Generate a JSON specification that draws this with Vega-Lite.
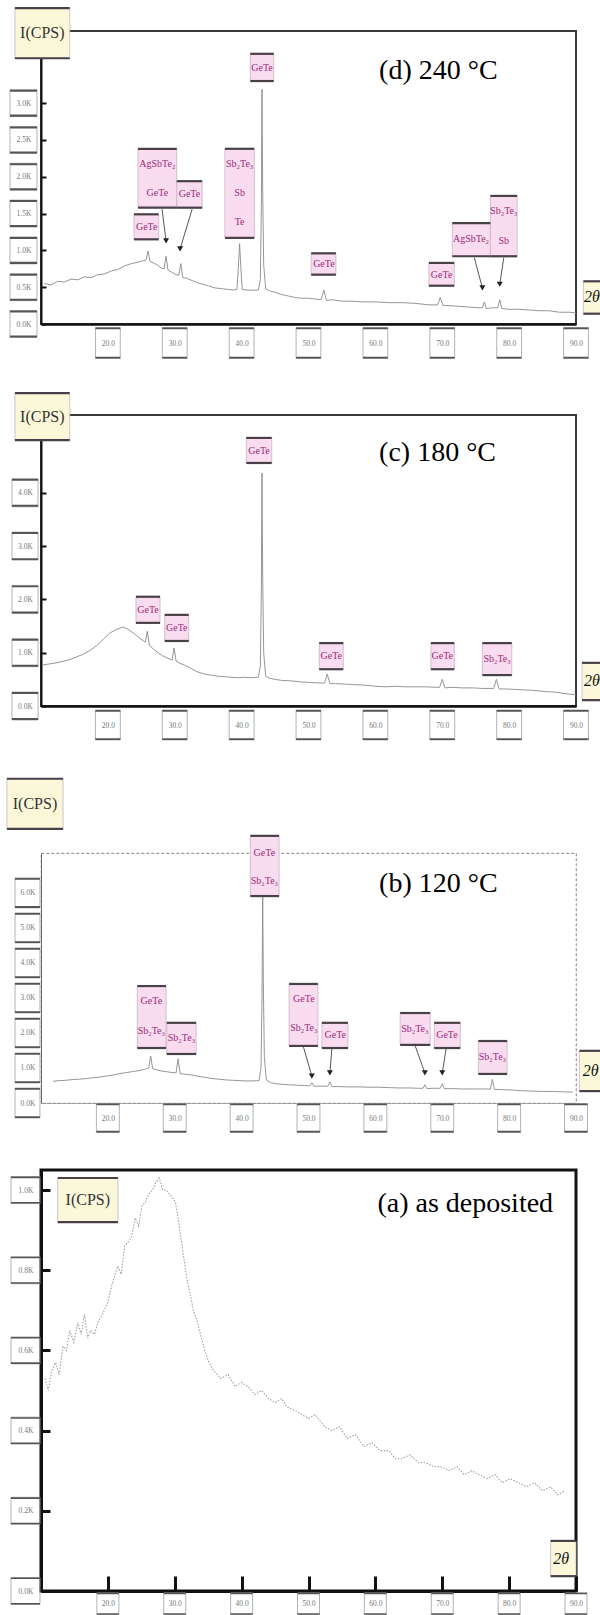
{
  "$schema": "https://vega.github.io/schema/vega-lite/v6.json",
  "background": "#ffffff",
  "padding": {"left": 5, "top": 6, "right": 0, "bottom": 0},
  "spacing": 0,
  "bounds": "flush",
  "config": {
    "view": {"stroke": null},
    "axis": {"grid": false, "labelFont": "Liberation Serif", "labelFontSize": 7.5, "labelColor": "#777", "labelFlush": false, "labelOverlap": false}
  },
  "datasets": {
    "xrd": [
      {"p":"d","t":10.5,"k":0.55},{"p":"d","t":11.5,"k":0.53},{"p":"d","t":12.5,"k":0.58},{"p":"d","t":13.5,"k":0.57},{"p":"d","t":14.5,"k":0.61},{"p":"d","t":15.5,"k":0.60},{"p":"d","t":16.5,"k":0.64},{"p":"d","t":17.5,"k":0.63},{"p":"d","t":18.5,"k":0.67},{"p":"d","t":19.5,"k":0.68},{"p":"d","t":20.5,"k":0.72},{"p":"d","t":21.5,"k":0.74},{"p":"d","t":22.5,"k":0.79},{"p":"d","t":23.5,"k":0.82},{"p":"d","t":24.5,"k":0.84},{"p":"d","t":25.3,"k":0.86},{"p":"d","t":25.7,"k":0.87},{"p":"d","t":26.0,"k":0.99},{"p":"d","t":26.3,"k":0.85},{"p":"d","t":26.8,"k":0.83},{"p":"d","t":27.4,"k":0.80},{"p":"d","t":28.0,"k":0.76},{"p":"d","t":28.4,"k":0.75},{"p":"d","t":28.7,"k":0.92},{"p":"d","t":29.0,"k":0.73},{"p":"d","t":29.6,"k":0.70},{"p":"d","t":30.2,"k":0.67},{"p":"d","t":30.6,"k":0.66},{"p":"d","t":30.9,"k":0.82},{"p":"d","t":31.2,"k":0.63},{"p":"d","t":31.8,"k":0.62},{"p":"d","t":32.6,"k":0.59},{"p":"d","t":33.4,"k":0.56},{"p":"d","t":34.2,"k":0.54},{"p":"d","t":35.0,"k":0.52},{"p":"d","t":36.0,"k":0.49},{"p":"d","t":37.0,"k":0.48},{"p":"d","t":38.0,"k":0.47},{"p":"d","t":38.8,"k":0.46},{"p":"d","t":39.3,"k":0.47},{"p":"d","t":39.5,"k":0.75},{"p":"d","t":39.7,"k":1.09},{"p":"d","t":39.9,"k":0.74},{"p":"d","t":40.1,"k":0.47},{"p":"d","t":40.8,"k":0.46},{"p":"d","t":41.6,"k":0.46},{"p":"d","t":42.5,"k":0.46},{"p":"d","t":42.8,"k":0.6},{"p":"d","t":42.95,"k":1.6},{"p":"d","t":43.05,"k":3.19},{"p":"d","t":43.15,"k":1.8},{"p":"d","t":43.3,"k":0.8},{"p":"d","t":43.6,"k":0.48},{"p":"d","t":44.2,"k":0.45},{"p":"d","t":45.0,"k":0.43},{"p":"d","t":46.0,"k":0.40},{"p":"d","t":47.0,"k":0.38},{"p":"d","t":48.0,"k":0.36},{"p":"d","t":49.0,"k":0.35},{"p":"d","t":50.0,"k":0.35},{"p":"d","t":51.0,"k":0.34},{"p":"d","t":51.9,"k":0.33},{"p":"d","t":52.3,"k":0.46},{"p":"d","t":52.7,"k":0.32},{"p":"d","t":53.5,"k":0.33},{"p":"d","t":55.0,"k":0.31},{"p":"d","t":56.5,"k":0.31},{"p":"d","t":58.0,"k":0.30},{"p":"d","t":60.0,"k":0.30},{"p":"d","t":62.0,"k":0.29},{"p":"d","t":64.0,"k":0.29},{"p":"d","t":66.0,"k":0.28},{"p":"d","t":68.0,"k":0.26},{"p":"d","t":69.3,"k":0.26},{"p":"d","t":69.7,"k":0.36},{"p":"d","t":70.1,"k":0.25},{"p":"d","t":71.0,"k":0.25},{"p":"d","t":72.5,"k":0.24},{"p":"d","t":74.0,"k":0.23},{"p":"d","t":75.5,"k":0.22},{"p":"d","t":76.0,"k":0.22},{"p":"d","t":76.3,"k":0.30},{"p":"d","t":76.6,"k":0.21},{"p":"d","t":77.5,"k":0.22},{"p":"d","t":78.3,"k":0.22},{"p":"d","t":78.6,"k":0.33},{"p":"d","t":78.9,"k":0.21},{"p":"d","t":80.0,"k":0.20},{"p":"d","t":81.5,"k":0.20},{"p":"d","t":83.0,"k":0.19},{"p":"d","t":84.5,"k":0.18},{"p":"d","t":86.0,"k":0.18},{"p":"d","t":87.5,"k":0.16},{"p":"d","t":89.0,"k":0.16},{"p":"d","t":90.0,"k":0.15},

      {"p":"c","t":10.3,"k":0.77},{"p":"c","t":11.3,"k":0.79},{"p":"c","t":12.3,"k":0.81},{"p":"c","t":13.3,"k":0.84},{"p":"c","t":14.3,"k":0.87},{"p":"c","t":15.3,"k":0.92},{"p":"c","t":16.3,"k":0.97},{"p":"c","t":17.3,"k":1.04},{"p":"c","t":18.3,"k":1.13},{"p":"c","t":19.3,"k":1.25},{"p":"c","t":20.3,"k":1.37},{"p":"c","t":21.3,"k":1.44},{"p":"c","t":22.3,"k":1.48},{"p":"c","t":23.0,"k":1.44},{"p":"c","t":23.8,"k":1.37},{"p":"c","t":24.6,"k":1.29},{"p":"c","t":25.3,"k":1.22},{"p":"c","t":25.6,"k":1.20},{"p":"c","t":25.9,"k":1.40},{"p":"c","t":26.2,"k":1.14},{"p":"c","t":26.8,"k":1.07},{"p":"c","t":27.5,"k":1.00},{"p":"c","t":28.2,"k":0.94},{"p":"c","t":28.9,"k":0.90},{"p":"c","t":29.6,"k":0.86},{"p":"c","t":29.9,"k":1.09},{"p":"c","t":30.2,"k":0.84},{"p":"c","t":30.8,"k":0.80},{"p":"c","t":31.6,"k":0.76},{"p":"c","t":32.5,"k":0.70},{"p":"c","t":33.4,"k":0.64},{"p":"c","t":34.4,"k":0.60},{"p":"c","t":35.4,"k":0.58},{"p":"c","t":36.4,"k":0.56},{"p":"c","t":37.4,"k":0.55},{"p":"c","t":38.4,"k":0.54},{"p":"c","t":39.4,"k":0.53},{"p":"c","t":40.4,"k":0.54},{"p":"c","t":41.4,"k":0.53},{"p":"c","t":42.5,"k":0.54},{"p":"c","t":42.8,"k":0.75},{"p":"c","t":42.95,"k":2.2},{"p":"c","t":43.05,"k":4.37},{"p":"c","t":43.15,"k":2.4},{"p":"c","t":43.3,"k":1.0},{"p":"c","t":43.6,"k":0.56},{"p":"c","t":44.2,"k":0.52},{"p":"c","t":45.0,"k":0.50},{"p":"c","t":46.0,"k":0.48},{"p":"c","t":47.5,"k":0.47},{"p":"c","t":49.0,"k":0.45},{"p":"c","t":50.5,"k":0.44},{"p":"c","t":52.0,"k":0.43},{"p":"c","t":52.4,"k":0.43},{"p":"c","t":52.8,"k":0.60},{"p":"c","t":53.2,"k":0.42},{"p":"c","t":54.0,"k":0.42},{"p":"c","t":55.5,"k":0.41},{"p":"c","t":57.0,"k":0.40},{"p":"c","t":58.5,"k":0.39},{"p":"c","t":60.0,"k":0.37},{"p":"c","t":61.5,"k":0.36},{"p":"c","t":63.0,"k":0.37},{"p":"c","t":64.5,"k":0.36},{"p":"c","t":66.0,"k":0.36},{"p":"c","t":67.5,"k":0.36},{"p":"c","t":69.0,"k":0.35},{"p":"c","t":69.6,"k":0.35},{"p":"c","t":70.0,"k":0.50},{"p":"c","t":70.4,"k":0.34},{"p":"c","t":71.5,"k":0.35},{"p":"c","t":73.0,"k":0.34},{"p":"c","t":74.5,"k":0.34},{"p":"c","t":76.0,"k":0.33},{"p":"c","t":77.7,"k":0.33},{"p":"c","t":78.1,"k":0.50},{"p":"c","t":78.5,"k":0.32},{"p":"c","t":79.5,"k":0.32},{"p":"c","t":81.0,"k":0.31},{"p":"c","t":82.5,"k":0.30},{"p":"c","t":84.0,"k":0.29},{"p":"c","t":85.5,"k":0.27},{"p":"c","t":87.0,"k":0.26},{"p":"c","t":88.5,"k":0.23},{"p":"c","t":90.0,"k":0.21},

      {"p":"b","t":11.8,"k":0.62},{"p":"b","t":12.8,"k":0.64},{"p":"b","t":13.8,"k":0.65},{"p":"b","t":14.8,"k":0.67},{"p":"b","t":15.8,"k":0.68},{"p":"b","t":16.8,"k":0.70},{"p":"b","t":17.8,"k":0.72},{"p":"b","t":18.8,"k":0.74},{"p":"b","t":19.8,"k":0.77},{"p":"b","t":20.8,"k":0.80},{"p":"b","t":21.8,"k":0.84},{"p":"b","t":22.8,"k":0.87},{"p":"b","t":23.8,"k":0.90},{"p":"b","t":24.8,"k":0.93},{"p":"b","t":25.5,"k":0.96},{"p":"b","t":26.1,"k":1.00},{"p":"b","t":26.4,"k":1.34},{"p":"b","t":26.7,"k":0.98},{"p":"b","t":27.3,"k":0.95},{"p":"b","t":28.1,"k":0.91},{"p":"b","t":28.9,"k":0.89},{"p":"b","t":29.6,"k":0.87},{"p":"b","t":30.2,"k":0.86},{"p":"b","t":30.5,"k":1.26},{"p":"b","t":30.8,"k":0.84},{"p":"b","t":31.6,"k":0.82},{"p":"b","t":32.6,"k":0.80},{"p":"b","t":33.6,"k":0.76},{"p":"b","t":34.6,"k":0.73},{"p":"b","t":35.6,"k":0.70},{"p":"b","t":36.6,"k":0.68},{"p":"b","t":37.6,"k":0.66},{"p":"b","t":38.6,"k":0.65},{"p":"b","t":39.6,"k":0.64},{"p":"b","t":40.6,"k":0.63},{"p":"b","t":41.6,"k":0.63},{"p":"b","t":42.6,"k":0.64},{"p":"b","t":42.9,"k":1.0},{"p":"b","t":43.05,"k":3.0},{"p":"b","t":43.15,"k":5.9},{"p":"b","t":43.25,"k":3.4},{"p":"b","t":43.4,"k":1.3},{"p":"b","t":43.7,"k":0.66},{"p":"b","t":44.3,"k":0.58},{"p":"b","t":45.2,"k":0.55},{"p":"b","t":46.2,"k":0.53},{"p":"b","t":47.2,"k":0.52},{"p":"b","t":48.2,"k":0.51},{"p":"b","t":49.2,"k":0.50},{"p":"b","t":50.2,"k":0.49},{"p":"b","t":50.5,"k":0.58},{"p":"b","t":50.8,"k":0.48},{"p":"b","t":51.8,"k":0.48},{"p":"b","t":52.9,"k":0.48},{"p":"b","t":53.2,"k":0.60},{"p":"b","t":53.5,"k":0.47},{"p":"b","t":54.5,"k":0.47},{"p":"b","t":56.0,"k":0.46},{"p":"b","t":57.5,"k":0.46},{"p":"b","t":59.0,"k":0.45},{"p":"b","t":60.5,"k":0.45},{"p":"b","t":62.0,"k":0.44},{"p":"b","t":63.5,"k":0.43},{"p":"b","t":65.0,"k":0.43},{"p":"b","t":66.5,"k":0.42},{"p":"b","t":67.1,"k":0.42},{"p":"b","t":67.4,"k":0.52},{"p":"b","t":67.7,"k":0.41},{"p":"b","t":68.5,"k":0.42},{"p":"b","t":69.7,"k":0.42},{"p":"b","t":70.0,"k":0.55},{"p":"b","t":70.3,"k":0.41},{"p":"b","t":71.5,"k":0.41},{"p":"b","t":73.0,"k":0.40},{"p":"b","t":74.5,"k":0.40},{"p":"b","t":76.0,"k":0.40},{"p":"b","t":77.2,"k":0.40},{"p":"b","t":77.5,"k":0.68},{"p":"b","t":77.8,"k":0.39},{"p":"b","t":79.0,"k":0.38},{"p":"b","t":80.5,"k":0.37},{"p":"b","t":82.0,"k":0.35},{"p":"b","t":83.5,"k":0.34},{"p":"b","t":85.0,"k":0.33},{"p":"b","t":86.5,"k":0.33},{"p":"b","t":88.0,"k":0.32},{"p":"b","t":89.5,"k":0.31},

      {"p":"a","t":10.6,"k":0.53},{"p":"a","t":11.1,"k":0.50},{"p":"a","t":11.6,"k":0.55},{"p":"a","t":12.2,"k":0.57},{"p":"a","t":12.7,"k":0.54},{"p":"a","t":13.3,"k":0.61},{"p":"a","t":13.8,"k":0.60},{"p":"a","t":14.3,"k":0.65},{"p":"a","t":14.9,"k":0.62},{"p":"a","t":15.5,"k":0.67},{"p":"a","t":16.0,"k":0.64},{"p":"a","t":16.5,"k":0.69},{"p":"a","t":17.0,"k":0.63},{"p":"a","t":17.4,"k":0.65},{"p":"a","t":18.0,"k":0.64},{"p":"a","t":18.5,"k":0.67},{"p":"a","t":19.2,"k":0.69},{"p":"a","t":20.0,"k":0.72},{"p":"a","t":20.7,"k":0.77},{"p":"a","t":21.5,"k":0.81},{"p":"a","t":22.0,"k":0.79},{"p":"a","t":22.5,"k":0.86},{"p":"a","t":23.0,"k":0.87},{"p":"a","t":23.5,"k":0.88},{"p":"a","t":24.1,"k":0.93},{"p":"a","t":24.6,"k":0.91},{"p":"a","t":25.1,"k":0.96},{"p":"a","t":25.6,"k":0.97},{"p":"a","t":26.1,"k":0.99},{"p":"a","t":26.7,"k":1.00},{"p":"a","t":27.2,"k":1.02},{"p":"a","t":27.7,"k":1.03},{"p":"a","t":28.2,"k":1.00},{"p":"a","t":28.7,"k":1.00},{"p":"a","t":29.2,"k":0.99},{"p":"a","t":29.7,"k":0.98},{"p":"a","t":30.1,"k":0.97},{"p":"a","t":30.6,"k":0.92},{"p":"a","t":31.1,"k":0.86},{"p":"a","t":31.8,"k":0.78},{"p":"a","t":32.3,"k":0.74},{"p":"a","t":32.8,"k":0.70},{"p":"a","t":33.4,"k":0.67},{"p":"a","t":34.0,"k":0.63},{"p":"a","t":34.5,"k":0.60},{"p":"a","t":35.1,"k":0.57},{"p":"a","t":35.8,"k":0.55},{"p":"a","t":36.9,"k":0.53},{"p":"a","t":38.0,"k":0.54},{"p":"a","t":39.0,"k":0.51},{"p":"a","t":40.0,"k":0.52},{"p":"a","t":40.9,"k":0.51},{"p":"a","t":42.0,"k":0.49},{"p":"a","t":43.0,"k":0.50},{"p":"a","t":44.0,"k":0.48},{"p":"a","t":45.0,"k":0.47},{"p":"a","t":46.0,"k":0.48},{"p":"a","t":46.7,"k":0.46},{"p":"a","t":48.0,"k":0.45},{"p":"a","t":49.0,"k":0.44},{"p":"a","t":50.0,"k":0.43},{"p":"a","t":51.0,"k":0.44},{"p":"a","t":52.4,"k":0.41},{"p":"a","t":53.5,"k":0.40},{"p":"a","t":54.6,"k":0.41},{"p":"a","t":55.8,"k":0.38},{"p":"a","t":57.0,"k":0.39},{"p":"a","t":58.3,"k":0.36},{"p":"a","t":59.5,"k":0.37},{"p":"a","t":60.7,"k":0.35},{"p":"a","t":62.0,"k":0.35},{"p":"a","t":63.0,"k":0.33},{"p":"a","t":64.0,"k":0.33},{"p":"a","t":65.2,"k":0.34},{"p":"a","t":66.4,"k":0.32},{"p":"a","t":67.5,"k":0.32},{"p":"a","t":68.7,"k":0.31},{"p":"a","t":69.8,"k":0.31},{"p":"a","t":71.0,"k":0.30},{"p":"a","t":72.2,"k":0.31},{"p":"a","t":73.3,"k":0.29},{"p":"a","t":74.4,"k":0.30},{"p":"a","t":75.5,"k":0.29},{"p":"a","t":76.7,"k":0.28},{"p":"a","t":77.9,"k":0.29},{"p":"a","t":79.0,"k":0.27},{"p":"a","t":80.2,"k":0.28},{"p":"a","t":81.4,"k":0.27},{"p":"a","t":82.6,"k":0.26},{"p":"a","t":83.8,"k":0.27},{"p":"a","t":85.0,"k":0.25},{"p":"a","t":86.2,"k":0.26},{"p":"a","t":87.3,"k":0.24},{"p":"a","t":88.3,"k":0.25}
    ],
    "boxes": [
      {"p":"d","kind":"tag","t":23.9,"t2":27.6,"k":1.15,"k2":1.49},
      {"p":"d","kind":"tag","t":24.5,"t2":30.3,"k":1.58,"k2":2.38},
      {"p":"d","kind":"tag","t":30.3,"t2":34.1,"k":1.58,"k2":1.94},
      {"p":"d","kind":"tag","t":37.5,"t2":41.9,"k":1.17,"k2":2.38},
      {"p":"d","kind":"tag","t":41.3,"t2":44.8,"k":3.30,"k2":3.67},
      {"p":"d","kind":"tag","t":50.4,"t2":54.1,"k":0.67,"k2":0.96},
      {"p":"d","kind":"tag","t":68.0,"t2":71.8,"k":0.52,"k2":0.83},
      {"p":"d","kind":"tag","t":71.5,"t2":77.2,"k":0.92,"k2":1.37},
      {"p":"d","kind":"tag","t":77.2,"t2":81.2,"k":0.92,"k2":1.74},
      {"p":"d","kind":"card","t":6.1,"t2":14.3,"k":3.61,"k2":4.29},
      {"p":"d","kind":"card","t":91.1,"t2":93.75,"k":0.14,"k2":0.58},
      {"p":"c","kind":"tag","t":24.2,"t2":27.8,"k":1.56,"k2":2.05},
      {"p":"c","kind":"tag","t":28.5,"t2":32.1,"k":1.22,"k2":1.71},
      {"p":"c","kind":"tag","t":40.7,"t2":44.5,"k":4.56,"k2":5.03},
      {"p":"c","kind":"tag","t":51.6,"t2":55.2,"k":0.69,"k2":1.18},
      {"p":"c","kind":"tag","t":68.3,"t2":71.8,"k":0.69,"k2":1.18},
      {"p":"c","kind":"tag","t":76.0,"t2":80.4,"k":0.58,"k2":1.18},
      {"p":"c","kind":"card","t":6.1,"t2":14.3,"k":4.99,"k2":5.87},
      {"p":"c","kind":"card","t":90.9,"t2":93.75,"k":0.11,"k2":0.81},
      {"p":"b","kind":"tag","t":24.4,"t2":28.7,"k":1.57,"k2":3.34},
      {"p":"b","kind":"tag","t":28.8,"t2":33.2,"k":1.40,"k2":2.29},
      {"p":"b","kind":"tag","t":41.3,"t2":45.6,"k":5.91,"k2":7.63},
      {"p":"b","kind":"tag","t":47.1,"t2":51.4,"k":1.63,"k2":3.40},
      {"p":"b","kind":"tag","t":52.0,"t2":55.9,"k":1.57,"k2":2.29},
      {"p":"b","kind":"tag","t":63.7,"t2":68.2,"k":1.66,"k2":2.57},
      {"p":"b","kind":"tag","t":68.8,"t2":72.7,"k":1.57,"k2":2.29},
      {"p":"b","kind":"tag","t":75.4,"t2":79.7,"k":0.83,"k2":1.77},
      {"p":"b","kind":"card","t":4.9,"t2":13.3,"k":7.83,"k2":9.26},
      {"p":"b","kind":"card","t":90.5,"t2":93.75,"k":0.34,"k2":1.49},
      {"p":"a","kind":"card","t":12.5,"t2":21.5,"k":0.92,"k2":1.03},
      {"p":"a","kind":"card","t":86.2,"t2":90.0,"k":0.037,"k2":0.125}
    ],
    "tagText": [
      {"p":"d","t":25.8,"k":1.32,"text":"GeTe"},
      {"p":"d","t":27.4,"k":2.17,"text":"AgSbTe₂"},
      {"p":"d","t":27.4,"k":1.78,"text":"GeTe"},
      {"p":"d","t":32.2,"k":1.77,"text":"GeTe"},
      {"p":"d","t":39.7,"k":2.17,"text":"Sb₂Te₃"},
      {"p":"d","t":39.7,"k":1.78,"text":"Sb"},
      {"p":"d","t":39.7,"k":1.39,"text":"Te"},
      {"p":"d","t":43.05,"k":3.48,"text":"GeTe"},
      {"p":"d","t":52.3,"k":0.82,"text":"GeTe"},
      {"p":"d","t":69.9,"k":0.67,"text":"GeTe"},
      {"p":"d","t":74.3,"k":1.15,"text":"AgSbTe₂"},
      {"p":"d","t":79.2,"k":1.54,"text":"Sb₂Te₃"},
      {"p":"d","t":79.2,"k":1.13,"text":"Sb"},
      {"p":"c","t":26.0,"k":1.80,"text":"GeTe"},
      {"p":"c","t":30.3,"k":1.46,"text":"GeTe"},
      {"p":"c","t":42.6,"k":4.79,"text":"GeTe"},
      {"p":"c","t":53.4,"k":0.94,"text":"GeTe"},
      {"p":"c","t":70.0,"k":0.94,"text":"GeTe"},
      {"p":"c","t":78.2,"k":0.88,"text":"Sb₂Te₃"},
      {"p":"b","t":26.5,"k":2.91,"text":"GeTe"},
      {"p":"b","t":26.5,"k":2.06,"text":"Sb₂Te₃"},
      {"p":"b","t":31.0,"k":1.86,"text":"Sb₂Te₃"},
      {"p":"b","t":43.4,"k":7.14,"text":"GeTe"},
      {"p":"b","t":43.4,"k":6.34,"text":"Sb₂Te₃"},
      {"p":"b","t":49.3,"k":2.97,"text":"GeTe"},
      {"p":"b","t":49.3,"k":2.14,"text":"Sb₂Te₃"},
      {"p":"b","t":54.0,"k":1.94,"text":"GeTe"},
      {"p":"b","t":65.9,"k":2.11,"text":"Sb₂Te₃"},
      {"p":"b","t":70.7,"k":1.94,"text":"GeTe"},
      {"p":"b","t":77.5,"k":1.31,"text":"Sb₂Te₃"}
    ],
    "captions": [
      {"p":"d","kind":"cps","t":10.2,"k":3.95,"text":"I(CPS)"},
      {"p":"d","kind":"theta","t":91.2,"k":0.36,"text":"2θ"},
      {"p":"c","kind":"cps","t":10.2,"k":5.43,"text":"I(CPS)"},
      {"p":"c","kind":"theta","t":91.2,"k":0.46,"text":"2θ"},
      {"p":"b","kind":"cps","t":9.1,"k":8.54,"text":"I(CPS)"},
      {"p":"b","kind":"theta","t":91.0,"k":0.91,"text":"2θ"},
      {"p":"a","kind":"cps","t":17.0,"k":0.975,"text":"I(CPS)"},
      {"p":"a","kind":"theta","t":86.6,"k":0.081,"text":"2θ"}
    ],
    "arrows": [
      {"p":"d","t":28.1,"k":1.56,"t2":28.7,"k2":1.13},
      {"p":"d","t":32.6,"k":1.56,"t2":30.8,"k2":1.02},
      {"p":"d","t":74.8,"k":0.90,"t2":76.0,"k2":0.49},
      {"p":"d","t":79.2,"k":0.90,"t2":78.6,"k2":0.54},
      {"p":"b","t":49.2,"k":1.63,"t2":50.5,"k2":0.77},
      {"p":"b","t":53.5,"k":1.57,"t2":53.2,"k2":0.86},
      {"p":"b","t":65.9,"k":1.66,"t2":67.4,"k2":0.86},
      {"p":"b","t":70.6,"k":1.57,"t2":70.0,"k2":0.86}
    ],
    "titles": [
      {"p":"d","t":60.55,"k":3.44,"text":"(d) 240 °C"},
      {"p":"c","t":60.55,"k":4.75,"text":"(c) 180 °C"},
      {"p":"b","t":60.55,"k":6.26,"text":"(b) 120 °C"},
      {"p":"a","t":60.3,"k":0.965,"text":"(a) as deposited"}
    ],
    "yticks": [
      {"p":"d","k":0},{"p":"d","k":0.5},{"p":"d","k":1},{"p":"d","k":1.5},{"p":"d","k":2},{"p":"d","k":2.5},{"p":"d","k":3},
      {"p":"c","k":0},{"p":"c","k":1},{"p":"c","k":2},{"p":"c","k":3},{"p":"c","k":4},
      {"p":"b","k":0},{"p":"b","k":1},{"p":"b","k":2},{"p":"b","k":3},{"p":"b","k":4},{"p":"b","k":5},{"p":"b","k":6},
      {"p":"a","k":0},{"p":"a","k":0.2},{"p":"a","k":0.4},{"p":"a","k":0.6},{"p":"a","k":0.8},{"p":"a","k":1.0}
    ],
    "xticks": [{"t":20},{"t":30},{"t":40},{"t":50},{"t":60},{"t":70},{"t":80},{"t":90}]
  },
  "vconcat": [
    {
      "width": 535, "height": 293,
      "view": {"stroke": "#3a3a3a", "strokeWidth": 2},
      "layer": [
        {"data": {"name": "xrd"}, "transform": [{"filter": "datum.p == 'd'"}],
         "mark": {"type": "line", "color": "#8a8a8a", "strokeWidth": 0.9},
         "encoding": {
           "x": {"field": "t", "type": "quantitative", "scale": {"domain": [10, 90], "nice": false, "zero": false},
                 "axis": {"title": null, "values": [20,30,40,50,60,70,80,90], "format": ".1f", "ticks": false, "labelPadding": 19, "labelBaseline": "middle", "domainColor": "#111", "domainWidth": 2.5}},
           "y": {"field": "k", "type": "quantitative", "scale": {"domain": [0, 3.98], "nice": false, "zero": false},
                 "axis": {"title": null, "values": [0,0.5,1,1.5,2,2.5,3], "labelExpr": "format(datum.value, '.1f') + 'K'", "tickSize": -5, "tickWidth": 2, "tickColor": "#111", "labelPadding": 22.5, "labelAlign": "center", "labelBaseline": "middle", "domainColor": "#111", "domainWidth": 2}}
         }},
        {"data": {"name": "yticks"}, "transform": [{"filter": "datum.p == 'd'"}],
         "mark": {"type": "point", "shape": "M-1,-1H1V1H-1Z", "size": 729, "filled": false, "color": "#a0a0a0", "strokeWidth": 0.8, "opacity": 1},
         "encoding": {"x": {"datum": 7.38}, "y": {"field": "k", "type": "quantitative"}}},
        {"data": {"name": "yticks"}, "transform": [{"filter": "datum.p == 'd'"}],
         "mark": {"type": "point", "shape": "M-1,-1H1V-0.85H-1Z M-1,0.85H1V1H-1Z", "size": 729, "filled": true, "color": "#555", "strokeWidth": 0, "opacity": 1},
         "encoding": {"x": {"datum": 7.38}, "y": {"field": "k", "type": "quantitative"}}},
        {"data": {"name": "xticks"},
         "mark": {"type": "point", "shape": "M-0.8,-1H0.8V1H-0.8Z", "size": 961, "filled": false, "color": "#a0a0a0", "strokeWidth": 0.8, "opacity": 1},
         "encoding": {"x": {"field": "t", "type": "quantitative"}, "y": {"datum": -0.258}}},
        {"data": {"name": "xticks"},
         "mark": {"type": "point", "shape": "M-0.8,-1H0.8V-0.88H-0.8Z M-0.8,0.88H0.8V1H-0.8Z", "size": 961, "filled": true, "color": "#555", "strokeWidth": 0, "opacity": 1},
         "encoding": {"x": {"field": "t", "type": "quantitative"}, "y": {"datum": -0.258}}},
        {"data": {"name": "boxes"}, "transform": [{"filter": "datum.p == 'd'"}],
         "mark": {"type": "rect", "stroke": "#c8b4c4", "strokeWidth": 0.8},
         "encoding": {"x": {"field": "t", "type": "quantitative"}, "x2": {"field": "t2"}, "y": {"field": "k", "type": "quantitative"}, "y2": {"field": "k2"},
           "fill": {"field": "kind", "type": "nominal", "scale": {"domain": ["tag", "card"], "range": ["#f9dcf0", "#fbf8da"]}, "legend": null}}},
        {"data": {"name": "boxes"}, "transform": [{"filter": "datum.p == 'd'"}],
         "mark": {"type": "rule", "color": "#4a4048", "strokeWidth": 2.2},
         "encoding": {"x": {"field": "t", "type": "quantitative"}, "x2": {"field": "t2"}, "y": {"field": "k2", "type": "quantitative"}}},
        {"data": {"name": "boxes"}, "transform": [{"filter": "datum.p == 'd'"}],
         "mark": {"type": "rule", "color": "#4a4048", "strokeWidth": 2.2},
         "encoding": {"x": {"field": "t", "type": "quantitative"}, "x2": {"field": "t2"}, "y": {"field": "k", "type": "quantitative"}}},
        {"data": {"name": "tagText"}, "transform": [{"filter": "datum.p == 'd'"}],
         "mark": {"type": "text", "font": "Liberation Serif", "fontSize": 10, "color": "#9c2a78"},
         "encoding": {"x": {"field": "t", "type": "quantitative"}, "y": {"field": "k", "type": "quantitative"}, "text": {"field": "text"}}},
        {"data": {"name": "captions"}, "transform": [{"filter": "datum.p == 'd' && datum.kind == 'cps'"}],
         "mark": {"type": "text", "font": "Liberation Serif", "fontSize": 16, "color": "#333"},
         "encoding": {"x": {"field": "t", "type": "quantitative"}, "y": {"field": "k", "type": "quantitative"}, "text": {"field": "text"}}},
        {"data": {"name": "captions"}, "transform": [{"filter": "datum.p == 'd' && datum.kind == 'theta'"}],
         "mark": {"type": "text", "font": "Liberation Serif", "fontSize": 16, "fontStyle": "italic", "align": "left", "color": "#111"},
         "encoding": {"x": {"field": "t", "type": "quantitative"}, "y": {"field": "k", "type": "quantitative"}, "text": {"field": "text"}}},
        {"data": {"name": "arrows"}, "transform": [{"filter": "datum.p == 'd'"}],
         "mark": {"type": "rule", "color": "#444", "strokeWidth": 0.9},
         "encoding": {"x": {"field": "t", "type": "quantitative"}, "y": {"field": "k", "type": "quantitative"}, "x2": {"field": "t2"}, "y2": {"field": "k2"}}},
        {"data": {"name": "arrows"}, "transform": [{"filter": "datum.p == 'd'"}],
         "mark": {"type": "point", "shape": "triangle-down", "size": 36, "filled": true, "color": "#222", "opacity": 1},
         "encoding": {"x": {"field": "t2", "type": "quantitative"}, "y": {"field": "k2", "type": "quantitative"}}},
        {"data": {"name": "titles"}, "transform": [{"filter": "datum.p == 'd'"}],
         "mark": {"type": "text", "font": "Liberation Serif", "fontSize": 28, "align": "left", "baseline": "middle", "color": "#000"},
         "encoding": {"x": {"field": "t", "type": "quantitative"}, "y": {"field": "k", "type": "quantitative"}, "text": {"field": "text"}}}
      ]
    },
    {"width": 535, "height": 91, "view": {"stroke": null}, "data": {"values": [{}]}, "mark": {"type": "text", "text": ""}, "encoding": {}},
    {
      "width": 535, "height": 291,
      "view": {"stroke": "#3a3a3a", "strokeWidth": 2},
      "layer": [
        {"data": {"name": "xrd"}, "transform": [{"filter": "datum.p == 'c'"}],
         "mark": {"type": "line", "color": "#8a8a8a", "strokeWidth": 0.9},
         "encoding": {
           "x": {"field": "t", "type": "quantitative", "scale": {"domain": [10, 90], "nice": false, "zero": false},
                 "axis": {"title": null, "values": [20,30,40,50,60,70,80,90], "format": ".1f", "ticks": false, "labelPadding": 19, "labelBaseline": "middle", "domainColor": "#111", "domainWidth": 2.5}},
           "y": {"field": "k", "type": "quantitative", "scale": {"domain": [0, 5.46], "nice": false, "zero": false},
                 "axis": {"title": null, "values": [0,0.5,1,1.5,2,2.5,3,3.5,4,4.5], "labelExpr": "datum.value % 1 === 0 ? format(datum.value, '.1f') + 'K' : ''", "tickSize": -5, "tickWidth": 2, "tickColor": "#111", "labelPadding": 21, "labelAlign": "center", "labelBaseline": "middle", "domainColor": "#111", "domainWidth": 2}}
         }},
        {"data": {"name": "yticks"}, "transform": [{"filter": "datum.p == 'c'"}],
         "mark": {"type": "point", "shape": "M-0.93,-1H0.93V1H-0.93Z", "size": 784, "filled": false, "color": "#a0a0a0", "strokeWidth": 0.8, "opacity": 1},
         "encoding": {"x": {"datum": 7.61}, "y": {"field": "k", "type": "quantitative"}}},
        {"data": {"name": "yticks"}, "transform": [{"filter": "datum.p == 'c'"}],
         "mark": {"type": "point", "shape": "M-0.93,-1H0.93V-0.86H-0.93Z M-0.93,0.86H0.93V1H-0.93Z", "size": 784, "filled": true, "color": "#555", "strokeWidth": 0, "opacity": 1},
         "encoding": {"x": {"datum": 7.61}, "y": {"field": "k", "type": "quantitative"}}},
        {"data": {"name": "xticks"},
         "mark": {"type": "point", "shape": "M-0.83,-1H0.83V1H-0.83Z", "size": 900, "filled": false, "color": "#a0a0a0", "strokeWidth": 0.8, "opacity": 1},
         "encoding": {"x": {"field": "t", "type": "quantitative"}, "y": {"datum": -0.356}}},
        {"data": {"name": "xticks"},
         "mark": {"type": "point", "shape": "M-0.83,-1H0.83V-0.88H-0.83Z M-0.83,0.88H0.83V1H-0.83Z", "size": 900, "filled": true, "color": "#555", "strokeWidth": 0, "opacity": 1},
         "encoding": {"x": {"field": "t", "type": "quantitative"}, "y": {"datum": -0.356}}},
        {"data": {"name": "boxes"}, "transform": [{"filter": "datum.p == 'c'"}],
         "mark": {"type": "rect", "stroke": "#c8b4c4", "strokeWidth": 0.8},
         "encoding": {"x": {"field": "t", "type": "quantitative"}, "x2": {"field": "t2"}, "y": {"field": "k", "type": "quantitative"}, "y2": {"field": "k2"},
           "fill": {"field": "kind", "type": "nominal", "scale": {"domain": ["tag", "card"], "range": ["#f9dcf0", "#fbf8da"]}, "legend": null}}},
        {"data": {"name": "boxes"}, "transform": [{"filter": "datum.p == 'c'"}],
         "mark": {"type": "rule", "color": "#4a4048", "strokeWidth": 2.2},
         "encoding": {"x": {"field": "t", "type": "quantitative"}, "x2": {"field": "t2"}, "y": {"field": "k2", "type": "quantitative"}}},
        {"data": {"name": "boxes"}, "transform": [{"filter": "datum.p == 'c'"}],
         "mark": {"type": "rule", "color": "#4a4048", "strokeWidth": 2.2},
         "encoding": {"x": {"field": "t", "type": "quantitative"}, "x2": {"field": "t2"}, "y": {"field": "k", "type": "quantitative"}}},
        {"data": {"name": "tagText"}, "transform": [{"filter": "datum.p == 'c'"}],
         "mark": {"type": "text", "font": "Liberation Serif", "fontSize": 10, "color": "#9c2a78"},
         "encoding": {"x": {"field": "t", "type": "quantitative"}, "y": {"field": "k", "type": "quantitative"}, "text": {"field": "text"}}},
        {"data": {"name": "captions"}, "transform": [{"filter": "datum.p == 'c' && datum.kind == 'cps'"}],
         "mark": {"type": "text", "font": "Liberation Serif", "fontSize": 16, "color": "#333"},
         "encoding": {"x": {"field": "t", "type": "quantitative"}, "y": {"field": "k", "type": "quantitative"}, "text": {"field": "text"}}},
        {"data": {"name": "captions"}, "transform": [{"filter": "datum.p == 'c' && datum.kind == 'theta'"}],
         "mark": {"type": "text", "font": "Liberation Serif", "fontSize": 16, "fontStyle": "italic", "align": "left", "color": "#111"},
         "encoding": {"x": {"field": "t", "type": "quantitative"}, "y": {"field": "k", "type": "quantitative"}, "text": {"field": "text"}}},
        {"data": {"name": "titles"}, "transform": [{"filter": "datum.p == 'c'"}],
         "mark": {"type": "text", "font": "Liberation Serif", "fontSize": 28, "align": "left", "baseline": "middle", "color": "#000"},
         "encoding": {"x": {"field": "t", "type": "quantitative"}, "y": {"field": "k", "type": "quantitative"}, "text": {"field": "text"}}}
      ]
    },
    {"width": 535, "height": 147, "view": {"stroke": null}, "data": {"values": [{}]}, "mark": {"type": "text", "text": ""}, "encoding": {}},
    {
      "width": 535, "height": 250,
      "view": {"stroke": "#9a9a9a", "strokeWidth": 1.2, "strokeDash": [3, 2]},
      "layer": [
        {"data": {"name": "xrd"}, "transform": [{"filter": "datum.p == 'b'"}],
         "mark": {"type": "line", "color": "#8a8a8a", "strokeWidth": 0.9},
         "encoding": {
           "x": {"field": "t", "type": "quantitative", "scale": {"domain": [10, 90], "nice": false, "zero": false},
                 "axis": {"title": null, "values": [20,30,40,50,60,70,80,90], "format": ".1f", "ticks": false, "labelPadding": 15, "labelBaseline": "middle", "domainColor": "#999", "domainDash": [3, 2], "domainWidth": 1.2}},
           "y": {"field": "k", "type": "quantitative", "scale": {"domain": [0, 7.14], "nice": false, "zero": false},
                 "axis": {"title": null, "values": [0,1,2,3,4,5,6], "labelExpr": "format(datum.value, '.1f') + 'K'", "ticks": false, "labelPadding": 13.5, "labelAlign": "center", "labelBaseline": "middle", "domainColor": "#666", "domainWidth": 1}}
         }},
        {"data": {"name": "yticks"}, "transform": [{"filter": "datum.p == 'b'"}],
         "mark": {"type": "point", "shape": "M-0.83,-1H0.83V1H-0.83Z", "size": 900, "filled": false, "color": "#a0a0a0", "strokeWidth": 0.8, "opacity": 1},
         "encoding": {"x": {"datum": 7.98}, "y": {"field": "k", "type": "quantitative"}}},
        {"data": {"name": "yticks"}, "transform": [{"filter": "datum.p == 'b'"}],
         "mark": {"type": "point", "shape": "M-0.83,-1H0.83V-0.88H-0.83Z M-0.83,0.88H0.83V1H-0.83Z", "size": 900, "filled": true, "color": "#555", "strokeWidth": 0, "opacity": 1},
         "encoding": {"x": {"datum": 7.98}, "y": {"field": "k", "type": "quantitative"}}},
        {"data": {"name": "xticks"},
         "mark": {"type": "point", "shape": "M-0.79,-1H0.79V1H-0.79Z", "size": 841, "filled": false, "color": "#a0a0a0", "strokeWidth": 0.8, "opacity": 1},
         "encoding": {"x": {"field": "t", "type": "quantitative"}, "y": {"datum": -0.43}}},
        {"data": {"name": "xticks"},
         "mark": {"type": "point", "shape": "M-0.79,-1H0.79V-0.88H-0.79Z M-0.79,0.88H0.79V1H-0.79Z", "size": 841, "filled": true, "color": "#555", "strokeWidth": 0, "opacity": 1},
         "encoding": {"x": {"field": "t", "type": "quantitative"}, "y": {"datum": -0.43}}},
        {"data": {"name": "boxes"}, "transform": [{"filter": "datum.p == 'b'"}],
         "mark": {"type": "rect", "stroke": "#c8b4c4", "strokeWidth": 0.8},
         "encoding": {"x": {"field": "t", "type": "quantitative"}, "x2": {"field": "t2"}, "y": {"field": "k", "type": "quantitative"}, "y2": {"field": "k2"},
           "fill": {"field": "kind", "type": "nominal", "scale": {"domain": ["tag", "card"], "range": ["#f9dcf0", "#fbf8da"]}, "legend": null}}},
        {"data": {"name": "boxes"}, "transform": [{"filter": "datum.p == 'b'"}],
         "mark": {"type": "rule", "color": "#4a4048", "strokeWidth": 2.2},
         "encoding": {"x": {"field": "t", "type": "quantitative"}, "x2": {"field": "t2"}, "y": {"field": "k2", "type": "quantitative"}}},
        {"data": {"name": "boxes"}, "transform": [{"filter": "datum.p == 'b'"}],
         "mark": {"type": "rule", "color": "#4a4048", "strokeWidth": 2.2},
         "encoding": {"x": {"field": "t", "type": "quantitative"}, "x2": {"field": "t2"}, "y": {"field": "k", "type": "quantitative"}}},
        {"data": {"name": "tagText"}, "transform": [{"filter": "datum.p == 'b'"}],
         "mark": {"type": "text", "font": "Liberation Serif", "fontSize": 10, "color": "#9c2a78"},
         "encoding": {"x": {"field": "t", "type": "quantitative"}, "y": {"field": "k", "type": "quantitative"}, "text": {"field": "text"}}},
        {"data": {"name": "captions"}, "transform": [{"filter": "datum.p == 'b' && datum.kind == 'cps'"}],
         "mark": {"type": "text", "font": "Liberation Serif", "fontSize": 16, "color": "#333"},
         "encoding": {"x": {"field": "t", "type": "quantitative"}, "y": {"field": "k", "type": "quantitative"}, "text": {"field": "text"}}},
        {"data": {"name": "captions"}, "transform": [{"filter": "datum.p == 'b' && datum.kind == 'theta'"}],
         "mark": {"type": "text", "font": "Liberation Serif", "fontSize": 16, "fontStyle": "italic", "align": "left", "color": "#111"},
         "encoding": {"x": {"field": "t", "type": "quantitative"}, "y": {"field": "k", "type": "quantitative"}, "text": {"field": "text"}}},
        {"data": {"name": "arrows"}, "transform": [{"filter": "datum.p == 'b'"}],
         "mark": {"type": "rule", "color": "#444", "strokeWidth": 0.9},
         "encoding": {"x": {"field": "t", "type": "quantitative"}, "y": {"field": "k", "type": "quantitative"}, "x2": {"field": "t2"}, "y2": {"field": "k2"}}},
        {"data": {"name": "arrows"}, "transform": [{"filter": "datum.p == 'b'"}],
         "mark": {"type": "point", "shape": "triangle-down", "size": 36, "filled": true, "color": "#222", "opacity": 1},
         "encoding": {"x": {"field": "t2", "type": "quantitative"}, "y": {"field": "k2", "type": "quantitative"}}},
        {"data": {"name": "titles"}, "transform": [{"filter": "datum.p == 'b'"}],
         "mark": {"type": "text", "font": "Liberation Serif", "fontSize": 28, "align": "left", "baseline": "middle", "color": "#000"},
         "encoding": {"x": {"field": "t", "type": "quantitative"}, "y": {"field": "k", "type": "quantitative"}, "text": {"field": "text"}}}
      ]
    },
    {"width": 535, "height": 67, "view": {"stroke": null}, "data": {"values": [{}]}, "mark": {"type": "text", "text": ""}, "encoding": {}},
    {
      "width": 535, "height": 421,
      "view": {"stroke": "#111", "strokeWidth": 3},
      "layer": [
        {"data": {"name": "xrd"}, "transform": [{"filter": "datum.p == 'a'"}],
         "mark": {"type": "line", "color": "#a0a0a0", "strokeWidth": 1.1, "strokeDash": [1.5, 1.5]},
         "encoding": {
           "x": {"field": "t", "type": "quantitative", "scale": {"domain": [10, 90], "nice": false, "zero": false},
                 "axis": {"title": null, "values": [20,30,40,50,60,70,80,90], "format": ".1f", "ticks": true, "tickSize": -15, "tickWidth": 3, "tickColor": "#111", "labelPadding": 27.8, "labelBaseline": "middle", "domainColor": "#111", "domainWidth": 3}},
           "y": {"field": "k", "type": "quantitative", "scale": {"domain": [0, 1.05], "nice": false, "zero": false},
                 "axis": {"title": null, "values": [0,0.2,0.4,0.6,0.8,1.0], "labelExpr": "format(datum.value, '.1f') + 'K'", "ticks": true, "tickSize": -9, "tickWidth": 3, "tickColor": "#111", "labelPadding": 24.5, "labelAlign": "center", "labelBaseline": "middle", "domainColor": "#111", "domainWidth": 3}}
         }},
        {"data": {"name": "yticks"}, "transform": [{"filter": "datum.p == 'a'"}],
         "mark": {"type": "point", "shape": "M-1,-0.93H1V0.93H-1Z", "size": 841, "filled": false, "color": "#a0a0a0", "strokeWidth": 0.8, "opacity": 1},
         "encoding": {"x": {"datum": 7.68}, "y": {"field": "k", "type": "quantitative"}}},
        {"data": {"name": "yticks"}, "transform": [{"filter": "datum.p == 'a'"}],
         "mark": {"type": "point", "shape": "M-1,-0.93H1V-0.82H-1Z M-1,0.82H1V0.93H-1Z", "size": 841, "filled": true, "color": "#555", "strokeWidth": 0, "opacity": 1},
         "encoding": {"x": {"datum": 7.68}, "y": {"field": "k", "type": "quantitative"}}},
        {"data": {"name": "xticks"},
         "mark": {"type": "point", "shape": "M-1,-1H1V1H-1Z", "size": 484, "filled": false, "color": "#a0a0a0", "strokeWidth": 0.8, "opacity": 1},
         "encoding": {"x": {"field": "t", "type": "quantitative"}, "y": {"datum": -0.032}}},
        {"data": {"name": "xticks"},
         "mark": {"type": "point", "shape": "M-1,-1H1V-0.86H-1Z M-1,0.86H1V1H-1Z", "size": 484, "filled": true, "color": "#555", "strokeWidth": 0, "opacity": 1},
         "encoding": {"x": {"field": "t", "type": "quantitative"}, "y": {"datum": -0.032}}},
        {"data": {"name": "boxes"}, "transform": [{"filter": "datum.p == 'a'"}],
         "mark": {"type": "rect", "stroke": "#c8b4c4", "strokeWidth": 0.8},
         "encoding": {"x": {"field": "t", "type": "quantitative"}, "x2": {"field": "t2"}, "y": {"field": "k", "type": "quantitative"}, "y2": {"field": "k2"},
           "fill": {"field": "kind", "type": "nominal", "scale": {"domain": ["tag", "card"], "range": ["#f9dcf0", "#fbf8da"]}, "legend": null}}},
        {"data": {"name": "boxes"}, "transform": [{"filter": "datum.p == 'a'"}],
         "mark": {"type": "rule", "color": "#4a4048", "strokeWidth": 2.2},
         "encoding": {"x": {"field": "t", "type": "quantitative"}, "x2": {"field": "t2"}, "y": {"field": "k2", "type": "quantitative"}}},
        {"data": {"name": "boxes"}, "transform": [{"filter": "datum.p == 'a'"}],
         "mark": {"type": "rule", "color": "#4a4048", "strokeWidth": 2.2},
         "encoding": {"x": {"field": "t", "type": "quantitative"}, "x2": {"field": "t2"}, "y": {"field": "k", "type": "quantitative"}}},
        {"data": {"name": "captions"}, "transform": [{"filter": "datum.p == 'a' && datum.kind == 'cps'"}],
         "mark": {"type": "text", "font": "Liberation Serif", "fontSize": 16, "color": "#333"},
         "encoding": {"x": {"field": "t", "type": "quantitative"}, "y": {"field": "k", "type": "quantitative"}, "text": {"field": "text"}}},
        {"data": {"name": "captions"}, "transform": [{"filter": "datum.p == 'a' && datum.kind == 'theta'"}],
         "mark": {"type": "text", "font": "Liberation Serif", "fontSize": 16, "fontStyle": "italic", "align": "left", "color": "#111"},
         "encoding": {"x": {"field": "t", "type": "quantitative"}, "y": {"field": "k", "type": "quantitative"}, "text": {"field": "text"}}},
        {"data": {"name": "titles"}, "transform": [{"filter": "datum.p == 'a'"}],
         "mark": {"type": "text", "font": "Liberation Serif", "fontSize": 28, "align": "left", "baseline": "middle", "color": "#000"},
         "encoding": {"x": {"field": "t", "type": "quantitative"}, "y": {"field": "k", "type": "quantitative"}, "text": {"field": "text"}}}
      ]
    }
  ]
}
